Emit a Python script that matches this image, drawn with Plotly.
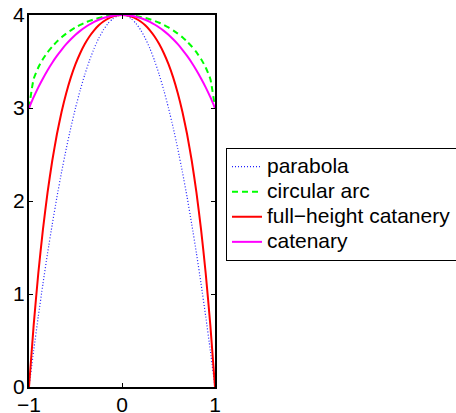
import plotly.graph_objects as go

x_vals = [-1.0, -0.95, -0.9, -0.85, -0.8, -0.75, -0.7, -0.65, -0.6, -0.55, -0.5,
          -0.45, -0.4, -0.35, -0.3, -0.25, -0.2, -0.15, -0.1, -0.05, 0.0,
          0.05, 0.1, 0.15, 0.2, 0.25, 0.3, 0.35, 0.4, 0.45, 0.5,
          0.55, 0.6, 0.65, 0.7, 0.75, 0.8, 0.85, 0.9, 0.95, 1.0]

parabola = [0.0, 0.39, 0.76, 1.11, 1.44, 1.75, 2.04, 2.31, 2.56, 2.79, 3.0,
            3.19, 3.36, 3.51, 3.64, 3.75, 3.84, 3.91, 3.96, 3.99, 4.0,
            3.99, 3.96, 3.91, 3.84, 3.75, 3.64, 3.51, 3.36, 3.19, 3.0,
            2.79, 2.56, 2.31, 2.04, 1.75, 1.44, 1.11, 0.76, 0.39, 0.0]

circular_arc = [3.0, 3.312, 3.436, 3.527, 3.6, 3.661, 3.714, 3.76, 3.8, 3.835, 3.866,
                3.893, 3.917, 3.937, 3.954, 3.968, 3.98, 3.989, 3.995, 3.999, 4.0,
                3.999, 3.995, 3.989, 3.98, 3.968, 3.954, 3.937, 3.917, 3.893, 3.866,
                3.835, 3.8, 3.76, 3.714, 3.661, 3.6, 3.527, 3.436, 3.312, 3.0]

full_height_catenary = [0.0, 0.662, 1.223, 1.696, 2.096, 2.433, 2.718, 2.957, 3.159, 3.329, 3.471,
                        3.589, 3.688, 3.769, 3.835, 3.889, 3.93, 3.961, 3.983, 3.996, 4.0,
                        3.996, 3.983, 3.961, 3.93, 3.889, 3.835, 3.769, 3.688, 3.589, 3.471,
                        3.329, 3.159, 2.957, 2.718, 2.433, 2.096, 1.696, 1.223, 0.662, 0.0]

catenary = [3.0, 3.116, 3.222, 3.318, 3.407, 3.487, 3.56, 3.626, 3.686, 3.739, 3.787,
            3.829, 3.866, 3.898, 3.926, 3.949, 3.967, 3.982, 3.992, 3.998, 4.0,
            3.998, 3.992, 3.982, 3.967, 3.949, 3.926, 3.898, 3.866, 3.829, 3.787,
            3.739, 3.686, 3.626, 3.56, 3.487, 3.407, 3.318, 3.222, 3.116, 3.0]

names = ["parabola", "circular arc", "full\u2212height catanery", "catenary"]
x_ticks = [-1, 0, 1]
y_ticks = [0, 1, 2, 3, 4]

FONT = "Liberation Sans, Arial, Helvetica, sans-serif"

fig = go.Figure()
series = [parabola, circular_arc, full_height_catenary, catenary]
styles = [
    dict(color="#2020FF", width=1.2, dash="1px,2px"),
    dict(color="#00FF00", width=2, dash="6px,4px"),
    dict(color="#FF0000", width=2),
    dict(color="#FF00FF", width=2),
]
for name, ys, st in zip(names, series, styles):
    fig.add_trace(go.Scatter(x=x_vals, y=ys, mode="lines",
                             name=f'<span style="font-size:21px">{name}</span>',
                             line=dict(shape="spline", smoothing=0.5, **st)))

axis_common = dict(showline=True, linecolor="black", linewidth=2, mirror="ticks",
                   ticks="inside", ticklen=4, tickwidth=1, tickcolor="black",
                   showgrid=False, zeroline=False, automargin=False,
                   tickfont=dict(family=FONT, size=21, color="black"))

fig.update_xaxes(range=[-1, 1], tickvals=x_ticks, ticklabelstandoff=-2, **axis_common)
fig.update_yaxes(range=[0, 4], tickvals=y_ticks, ticklabelstandoff=-2, **axis_common)

fig.update_layout(
    width=456, height=413,
    margin=dict(l=29, r=241, t=15, b=26, autoexpand=False),
    paper_bgcolor="white", plot_bgcolor="white",
    showlegend=True,
    legend=dict(xref="container", yref="container",
                x=226 / 456, y=1 - 148 / 413, xanchor="left", yanchor="top",
                bordercolor="black", borderwidth=1, bgcolor="white",
                font=dict(family=FONT, size=17, color="black")),
)

fig.write_html("out.html", config={"displayModeBar": False},
               post_script="document.body.style.margin='0';document.body.style.overflow='hidden';")
